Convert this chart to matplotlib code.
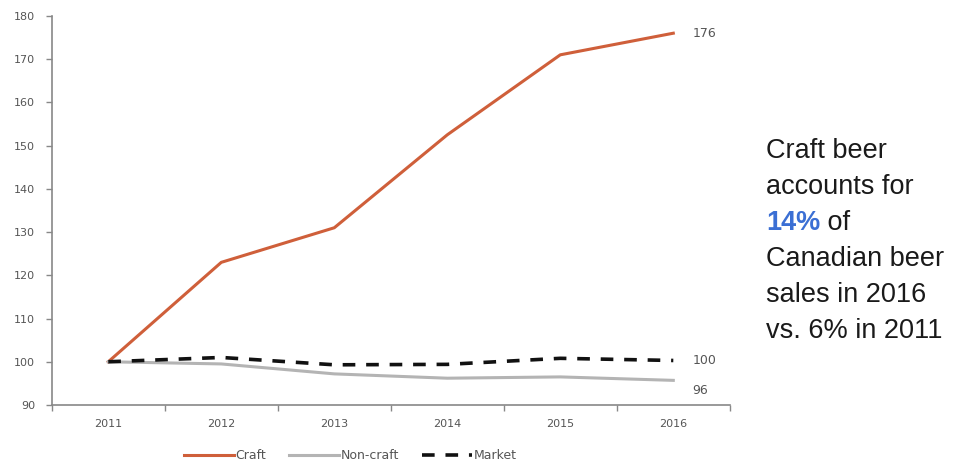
import numpy as np
import matplotlib.pyplot as plt

years = ["2011", "2012", "2013", "2014", "2015", "2016"]
craft = [100, 123, 131, 152.5, 171, 176]
non_craft = [100, 99.5, 97.2, 96.2, 96.5, 95.7]
market = [100, 101, 99.3, 99.4, 100.8, 100.3]
end_labels = ["176", "96", "100"]

fig = plt.figure(figsize=(9.59, 4.68), dpi=100)
ax = fig.add_axes([0.054, 0.1346, 0.707, 0.8314])

x = np.arange(len(years))
ax.plot(x, craft, color="#cf5f3a", lw=2.2, label="Craft")
ax.plot(x, non_craft, color="#b4b4b4", lw=2.2, label="Non-craft")
ax.plot(x, market, color="#111111", lw=2.6, ls=(0, (3.5, 3)), label="Market")

# end of line value labels
for vals, lab, dy in [(craft, end_labels[0], 0), (non_craft, end_labels[1], -7), (market, end_labels[2], 0)]:
    ax.annotate(lab, (x[-1], vals[-1]), xytext=(14, dy), textcoords="offset points",
                va="center", ha="left", fontsize=9, color="#555555")

ax.set_xlim(-0.5, 5.5)
ax.set_ylim(90, 180)
ax.set_yticks(range(90, 181, 10))
ax.set_xticks(x)
ax.set_xticklabels(years)
ax.set_xticks(np.arange(-0.5, 6, 1), minor=True)
ax.tick_params(axis="x", which="major", length=0, pad=10, labelsize=8, labelcolor="#555555")
ax.tick_params(axis="x", which="minor", length=4, color="#888888", width=1)
ax.tick_params(axis="y", length=4, color="#888888", width=1, labelsize=8, labelcolor="#555555", pad=8)

for s in ["top", "right"]:
    ax.spines[s].set_visible(False)
for s in ["left", "bottom"]:
    ax.spines[s].set_color("#888888")
    ax.spines[s].set_linewidth(1.2)

ax.legend(loc="upper center", bbox_to_anchor=(0.44, -0.085), ncol=3, frameon=False,
          fontsize=9, handlelength=4.0, handletextpad=0.15, columnspacing=1.8,
          labelcolor="#555555")

# right hand note
lines = ["Craft beer", "accounts for", None, "Canadian beer", "sales in 2016", "vs. 6% in 2011"]
x0 = 766 / 959
top = 1 - 151 / 468
step = 36.0 / 468
fs = 19.5
for i, ln in enumerate(lines):
    yy = top - i * step
    if ln is None:
        t = fig.text(x0, yy, "14%", fontsize=fs, fontweight="bold", color="#3b6fd4",
                     va="center", ha="left", family="Liberation Sans")
        fig.canvas.draw()
        bb = t.get_window_extent().transformed(fig.transFigure.inverted())
        fig.text(bb.x1, yy, " of", fontsize=fs, color="#1a1a1a", va="center", ha="left",
                 family="Liberation Sans")
    else:
        fig.text(x0, yy, ln, fontsize=fs, color="#1a1a1a", va="center", ha="left",
                 family="Liberation Sans")

fig.savefig("out.png", dpi=100)
